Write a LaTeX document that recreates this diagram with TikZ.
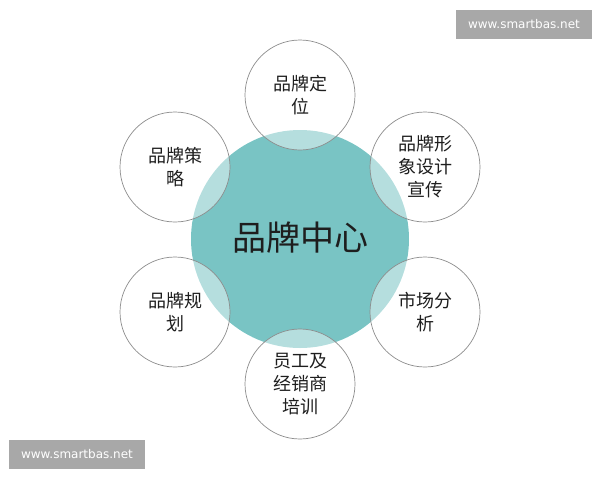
\documentclass[tikz,border=0pt]{standalone}
\usepackage{fontspec}
\newfontfamily\cjk{Noto Sans CJK SC}
\setsansfont{DejaVu Sans}
\definecolor{hubteal}{RGB}{121,196,196}
\definecolor{ringgray}{RGB}{140,140,140}
\definecolor{markgray}{RGB}{168,168,168}
\definecolor{inkgray}{RGB}{30,30,30}

\begin{document}
\begin{tikzpicture}[
            x=1pt, y=-1pt,
            hub/.style={circle, fill=hubteal, minimum size=218pt, inner sep=0pt},
            leaf/.style={circle, draw=ringgray, fill=white, fill opacity=0.45,
                         text opacity=1, text=inkgray, line width=0.7pt, minimum size=110pt,
                         inner sep=0pt, align=center, font=\cjk\fontsize{18}{23}\selectfont},
            stamp/.style={fill=markgray, text=white, minimum width=136pt,
                          minimum height=29pt, inner sep=0pt,
                          font=\sffamily\fontsize{12}{14}\selectfont}
        ]

            % page frame
            \useasboundingbox (0,0) rectangle (600,480);

            % centre
            \node[hub] (hub) at (300,239) {};
            \node[text=inkgray, font=\cjk\fontsize{34}{40}\selectfont] (hubtext) at (300,238) {品牌中心};

            % six satellites round the centre
            \node[leaf] (dingwei) at (300,95) {品牌定\\位};
            \node[leaf] (xingxiang) at (425,167) {品牌形\\象设计\\宣传};
            \node[leaf] (shichang) at (425,312) {市场分\\析};
            \node[leaf] (peixun) at (300,384) {员工及\\经销商\\培训};
            \node[leaf] (guihua) at (175,312) {品牌规\\划};
            \node[leaf] (celue) at (175,167) {品牌策\\略};

            % watermarks
            \node[stamp] (marktop) at (524,24.5) {www.smartbas.net};
            \node[stamp] (markbottom) at (77,454.5) {www.smartbas.net};

        \end{tikzpicture}
\end{document}
